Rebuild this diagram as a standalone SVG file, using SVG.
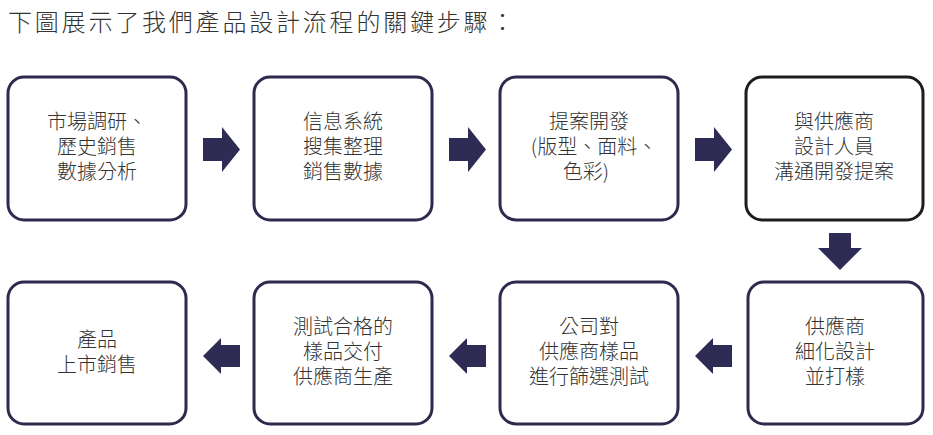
<svg xmlns="http://www.w3.org/2000/svg" width="933" height="435" viewBox="0 0 933 435">
<style>
.box{fill:#fff;stroke:#2d2b4d;stroke-width:3}
.box.dark{stroke:#1c1c1c}
.t{font-family:"Noto Sans CJK TC","Noto Sans CJK SC",sans-serif;font-weight:300;font-size:20px;fill:#333;text-anchor:middle}
.title{font-family:"Noto Sans CJK TC","Noto Sans CJK SC",sans-serif;font-weight:300;font-size:24px;fill:#333;letter-spacing:2.8px}
.arrow{fill:#2e2b55}
</style>
<rect width="933" height="435" fill="#fff"/>
<text class="title" x="8" y="31">下圖展示了我們產品設計流程的關鍵步驟：</text>
<g id="n1"><rect class="box" x="8" y="77" width="178" height="143" rx="16"/>
<text class="t"><tspan x="97" y="129">市場調研、</tspan><tspan x="97" y="154">歷史銷售</tspan><tspan x="97" y="179">數據分析</tspan></text></g>
<g id="n2"><rect class="box" x="254" y="77" width="178" height="143" rx="16"/>
<text class="t"><tspan x="343" y="129">信息系統</tspan><tspan x="343" y="154">搜集整理</tspan><tspan x="343" y="179">銷售數據</tspan></text></g>
<g id="n3"><rect class="box" x="500" y="77" width="178" height="143" rx="16"/>
<text class="t"><tspan x="589" y="129">提案開發</tspan><tspan x="594" y="154">(版型、面料、</tspan><tspan x="586" y="179">色彩)</tspan></text></g>
<g id="n4"><rect class="box dark" x="746" y="77" width="177" height="143" rx="16"/>
<text class="t"><tspan x="834" y="129">與供應商</tspan><tspan x="834" y="154">設計人員</tspan><tspan x="834" y="179">溝通開發提案</tspan></text></g>
<g id="n5"><rect class="box" x="748" y="282" width="175" height="142" rx="16"/>
<text class="t"><tspan x="835" y="334">供應商</tspan><tspan x="835" y="359">細化設計</tspan><tspan x="835" y="384">並打樣</tspan></text></g>
<g id="n6"><rect class="box" x="500" y="282" width="178" height="142" rx="16"/>
<text class="t"><tspan x="589" y="334">公司對</tspan><tspan x="589" y="359">供應商樣品</tspan><tspan x="589" y="384">進行篩選測試</tspan></text></g>
<g id="n7"><rect class="box" x="254" y="282" width="178" height="142" rx="16"/>
<text class="t"><tspan x="343" y="334">測試合格的</tspan><tspan x="343" y="359">樣品交付</tspan><tspan x="343" y="384">供應商生產</tspan></text></g>
<g id="n8"><rect class="box" x="8" y="282" width="178" height="142" rx="16"/>
<text class="t"><tspan x="97" y="347">產品</tspan><tspan x="97" y="372">上市銷售</tspan></text></g>
<g id="connectors">
<path class="arrow" d="M203 138H222V127L240 149.5L222 172V161H203Z"/>
<path class="arrow" d="M449 138H468V127L486 149.5L468 172V161H449Z"/>
<path class="arrow" d="M695 138H714V127L732 149.5L714 172V161H695Z"/>
<path class="arrow" d="M829 233V248H818L840 270L862 248H851V233Z"/>
<path class="arrow" d="M732 345H713V338L695 356L713 374V367H732Z"/>
<path class="arrow" d="M486 345H467V338L449 356L467 374V367H486Z"/>
<path class="arrow" d="M240 345H221V338L203 356L221 374V367H240Z"/>
</g>
</svg>
